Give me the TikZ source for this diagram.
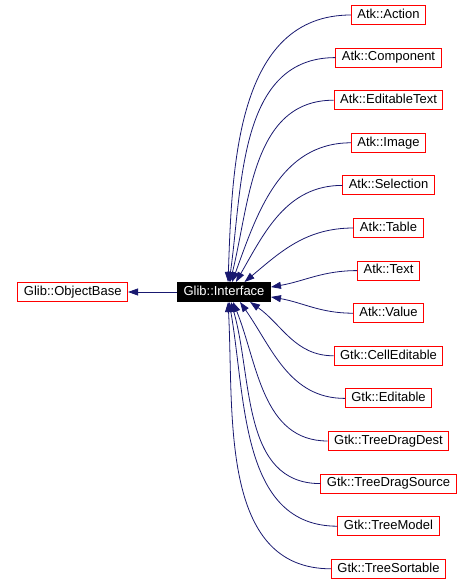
\documentclass[tikz,border=0pt]{standalone}
\usepackage{fontspec}
\setmainfont{Liberation Sans}
\usepackage{tikz}
\usetikzlibrary{arrows.meta,positioning}
\definecolor{edgeblue}{HTML}{191970}

\begin{document}
\begin{tikzpicture}[x=1pt, y=1pt,
  cls/.style={draw=red, line width=1pt, fill=white, minimum height=19pt,
              inner xsep=6pt, inner ysep=0pt, text height=9.5pt, text depth=2.8pt,
              font=\fontsize{13}{15}\selectfont},
  cur/.style={cls, draw=black, fill=black, text=white},
  inh/.style={draw=edgeblue, line width=0.8pt,
              -{Triangle[length=10pt, width=7pt]}},
  node distance=22.6pt and 49pt
]
\useasboundingbox (0,0) rectangle (473,-585);
% Current class and base
\node[cur] (iface) at (224,-292) {Glib::Interface};
\node[cls, left=of iface] (base) {Glib::ObjectBase};
% Derived interfaces
\node[cls] (action) at (388.5,-15) {Atk::Action};
\node[cls, below=of action] (component) {Atk::Component};
\node[cls, below=of component] (edittext) {Atk::EditableText};
\node[cls, below=of edittext] (image) {Atk::Image};
\node[cls, below=of image] (selection) {Atk::Selection};
\node[cls, below=of selection] (table) {Atk::Table};
\node[cls, below=of table] (text) {Atk::Text};
\node[cls, below=of text] (value) {Atk::Value};
\node[cls, below=of value] (celledit) {Gtk::CellEditable};
\node[cls, below=of celledit] (editable) {Gtk::Editable};
\node[cls, below=of editable] (dragdest) {Gtk::TreeDragDest};
\node[cls, below=of dragdest] (dragsrc) {Gtk::TreeDragSource};
\node[cls, below=of dragsrc] (treemodel) {Gtk::TreeModel};
\node[cls, below=of treemodel] (treesort) {Gtk::TreeSortable};
% Inheritance
\draw[inh] (iface) -- (base);
\foreach \n/\a/\i in {action/68/88, component/63/82, edittext/59/76,
    image/51/70, selection/40/60, table/26/40, text/6/10, value/-6/-10,
    celledit/-21/-35, editable/-32/-55, dragdest/-48/-68, dragsrc/-55/-74,
    treemodel/-63/-80, treesort/-68/-87}
  \draw[inh] (\n.west) to[out=180, in=\i] (iface.\a);
\end{tikzpicture}
\end{document}
